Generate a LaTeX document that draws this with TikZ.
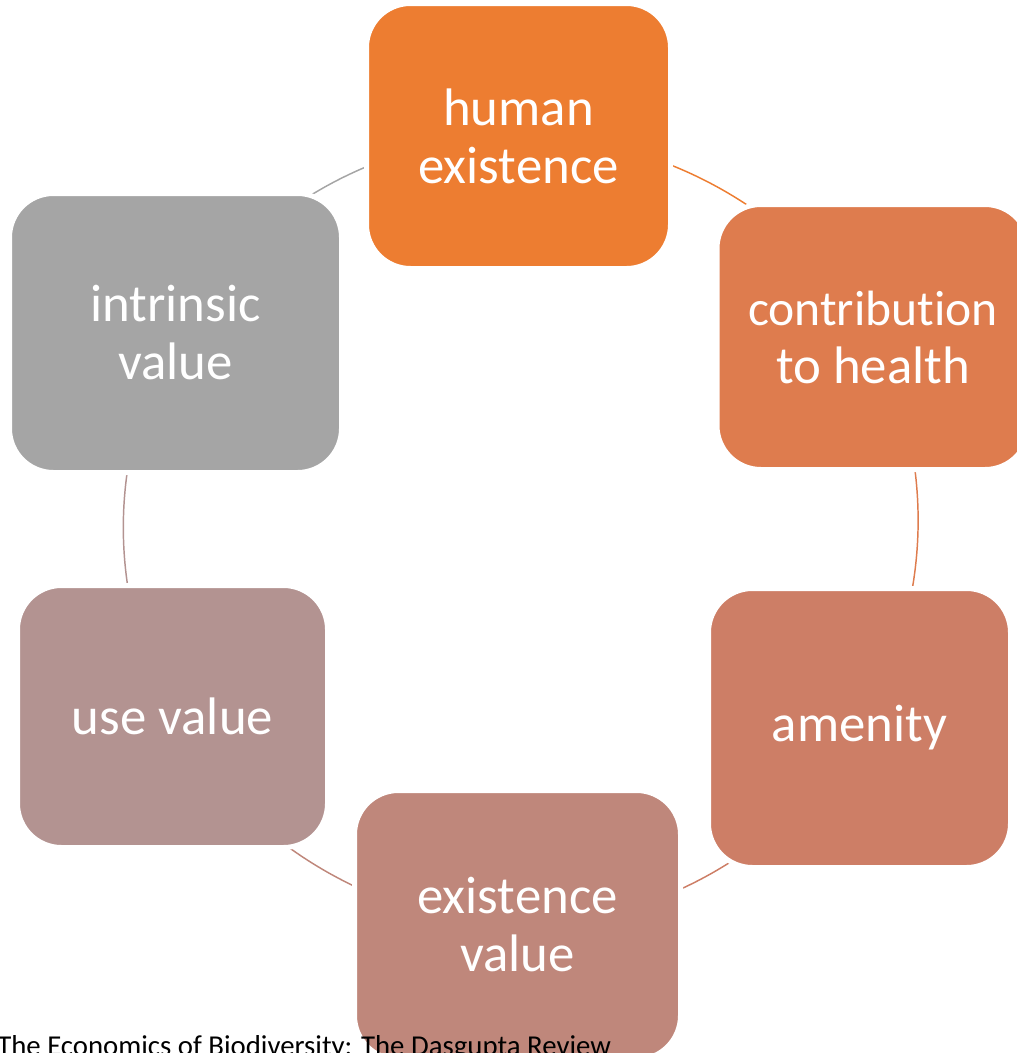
\documentclass[tikz,border=0pt]{standalone}
\usepackage{fontspec}
\setmainfont{Carlito}[Ligatures=NoCommon]
\pgfdeclarelayer{bg}
\pgfsetlayers{bg,main}
\definecolor{chuman}{HTML}{ED7D31}
\definecolor{ccontrib}{HTML}{DE7C4E}
\definecolor{camenity}{HTML}{CD7E66}
\definecolor{cexist}{HTML}{BF877B}
\definecolor{cuse}{HTML}{B39391}
\definecolor{cintr}{HTML}{A5A5A5}
\begin{document}
\begin{tikzpicture}[x=0.75pt,y=-0.75pt,
  box/.style={rectangle, rounded corners=33pt, draw=white, line width=3.75pt,
    inner sep=0pt, align=center, text=white,
    font=\fontsize{39.6}{43.5}\selectfont},
  arcline/.style={line width=1.1pt, looseness=0.9}]
\useasboundingbox (0,0) rectangle (1017,1053);
\node[box, fill=chuman, minimum width=228pt, minimum height=198.75pt] (human) at (518.5,136) {human\\existence};
\node[box, fill=ccontrib, minimum width=234pt, minimum height=198.75pt] (contrib) at (873,337) {{\fontsize{37.2}{43.5}\selectfont contribution}\\to health};
\node[box, fill=camenity, minimum width=226.5pt, minimum height=209.25pt] (amenity) at (859.5,728) {amenity};
\node[box, fill=cexist, minimum width=244.5pt, minimum height=201.75pt] (exist) at (517.5,925) {existence\\value};
\node[box, fill=cuse, minimum width=232.5pt, minimum height=196.5pt] (use) at (172.5,716.5) {use value};
\node[box, fill=cintr, minimum width=249pt, minimum height=209.25pt] (intr) at (175.5,333) {intrinsic\\value};
\begin{pgfonlayer}{bg}
\draw[arcline, chuman] (human.center) to[bend left=30] (contrib.center);
\draw[arcline, ccontrib] (contrib.center) to[bend left=30] (amenity.center);
\draw[arcline, camenity] (amenity.center) to[bend left=30] (exist.center);
\draw[arcline, cexist] (exist.center) to[bend left=30] (use.center);
\draw[arcline, cuse] (use.center) to[bend left=30] (intr.center);
\draw[arcline, cintr] (intr.center) to[bend left=30] (human.center);
\end{pgfonlayer}
\node[anchor=base west, inner sep=0pt, font=\fontsize{21.6}{25}\selectfont] (cap) at (-3,1055) {The Economics of Biodiversity: The Dasgupta Review};
\end{tikzpicture}
\end{document}
